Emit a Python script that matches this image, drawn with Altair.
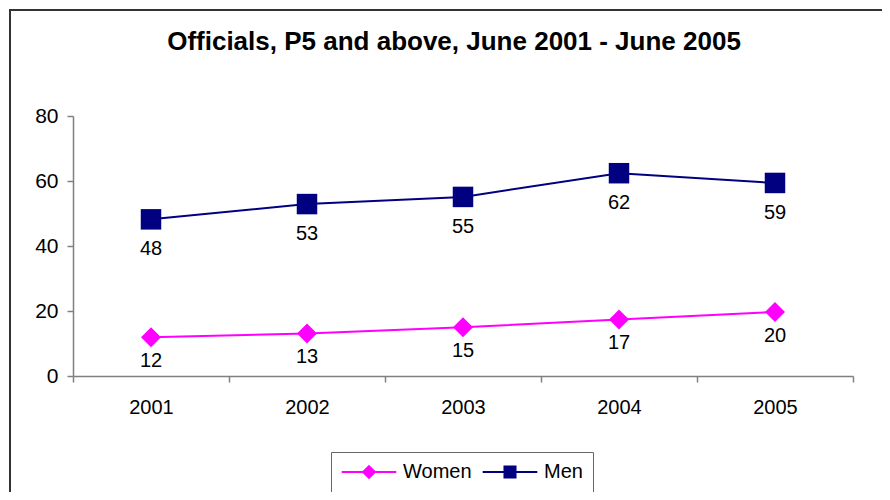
import altair as alt
import pandas as pd

years = ["2001", "2002", "2003", "2004", "2005"]
women = [11.9, 13.1, 15.0, 17.4, 19.7]
men = [48.2, 52.9, 55.1, 62.4, 59.4]
series_names = ["Women", "Men"]
series_colors = ["#FF00FF", "#000080"]
title_text = "Officials, P5 and above, June 2001 - June 2005"

rows = []
for y, w, m in zip(years, women, men):
    rows.append({"year": y, "value": w, "series": "Women"})
    rows.append({"year": y, "value": m, "series": "Men"})
df = pd.DataFrame(rows)

FONT = "Liberation Sans"

x_enc = alt.X("year:O", title=None, sort=years,
              scale=alt.Scale(paddingInner=0, paddingOuter=0),
              axis=alt.Axis(labelAngle=0, tickBand="extent", domainColor="#808080",
                            tickColor="#808080", domainWidth=1.5, tickWidth=1.5,
                            tickSize=6, labelPadding=15, labelFontSize=20,
                            labelFont=FONT, labelColor="black", grid=False))
y_enc = alt.Y("value:Q", title=None,
              scale=alt.Scale(domain=[0, 80], nice=False),
              axis=alt.Axis(values=[0, 20, 40, 60, 80], domainColor="#808080",
                            tickColor="#808080", domainWidth=1.5, tickWidth=1.5,
                            tickSize=6, labelPadding=9, labelFontSize=21,
                            labelFont=FONT, labelColor="black", grid=False))

base = alt.Chart(df)

def series_layers(name, color, shape, size, dy):
    b = base.transform_filter(alt.datum.series == name)
    line = b.mark_line(color=color, strokeWidth=2).encode(x=x_enc, y=y_enc)
    pts = b.mark_point(shape=shape, filled=True, color=color, size=size, opacity=1).encode(x=x_enc, y=y_enc)
    lbl = b.mark_text(dy=dy, fontSize=20, font=FONT, color="black").encode(
        x=x_enc, y=y_enc, text=alt.Text("value:Q", format=".0f"))
    return [line, pts, lbl]

women_layers = series_layers("Women", series_colors[0], "diamond", 400, 24)
men_layers = series_layers("Men", series_colors[1], "square", 420, 30)

diamond_path = "M-4.2,0H4.2M0,-0.9L0.9,0L0,0.9L-0.9,0Z"
square_path = "M-4.2,0H4.2M-0.85,-0.85H0.85V0.85H-0.85Z"

legend = alt.Legend(title=None, orient="none", legendX=258, legendY=336,
                    direction="horizontal", symbolSize=169, symbolOpacity=1,
                    symbolStrokeWidth=2, symbolOffset=18, labelOffset=24,
                    columnPadding=6, labelFontSize=20, labelFont=FONT,
                    labelColor="black", strokeColor="#666666", padding=10,
                    fillColor="white")

legend_layer = base.mark_point(opacity=0, size=10).encode(
    x=x_enc, y=y_enc,
    fill=alt.Fill("series:N", sort=series_names,
                  scale=alt.Scale(domain=series_names, range=series_colors), legend=legend),
    stroke=alt.Stroke("series:N", sort=series_names,
                      scale=alt.Scale(domain=series_names, range=series_colors), legend=legend),
    shape=alt.Shape("series:N", sort=series_names,
                    scale=alt.Scale(domain=series_names, range=[diamond_path, square_path]),
                    legend=legend),
)

frame = alt.Chart(pd.DataFrame({"a": [0]})).mark_rect(
    fill=None, stroke="#333333", strokeWidth=2).encode(
    x=alt.value(-63), x2=alt.value(1200), y=alt.value(-106), y2=alt.value(1200))

chart = alt.layer(frame, legend_layer, *women_layers, *men_layers).properties(
    width=780, height=260,
    title=alt.TitleParams(title_text, fontSize=26, font=FONT, fontWeight="bold",
                          color="black", anchor="middle", offset=-46, dx=-9),
    padding={"left": 65, "top": 108, "right": 29, "bottom": 116},
    autosize=alt.AutoSizeParams(type="none"),
).configure_view(stroke=None)

chart.save("out.html", embed_options={"renderer": "svg", "actions": False})
